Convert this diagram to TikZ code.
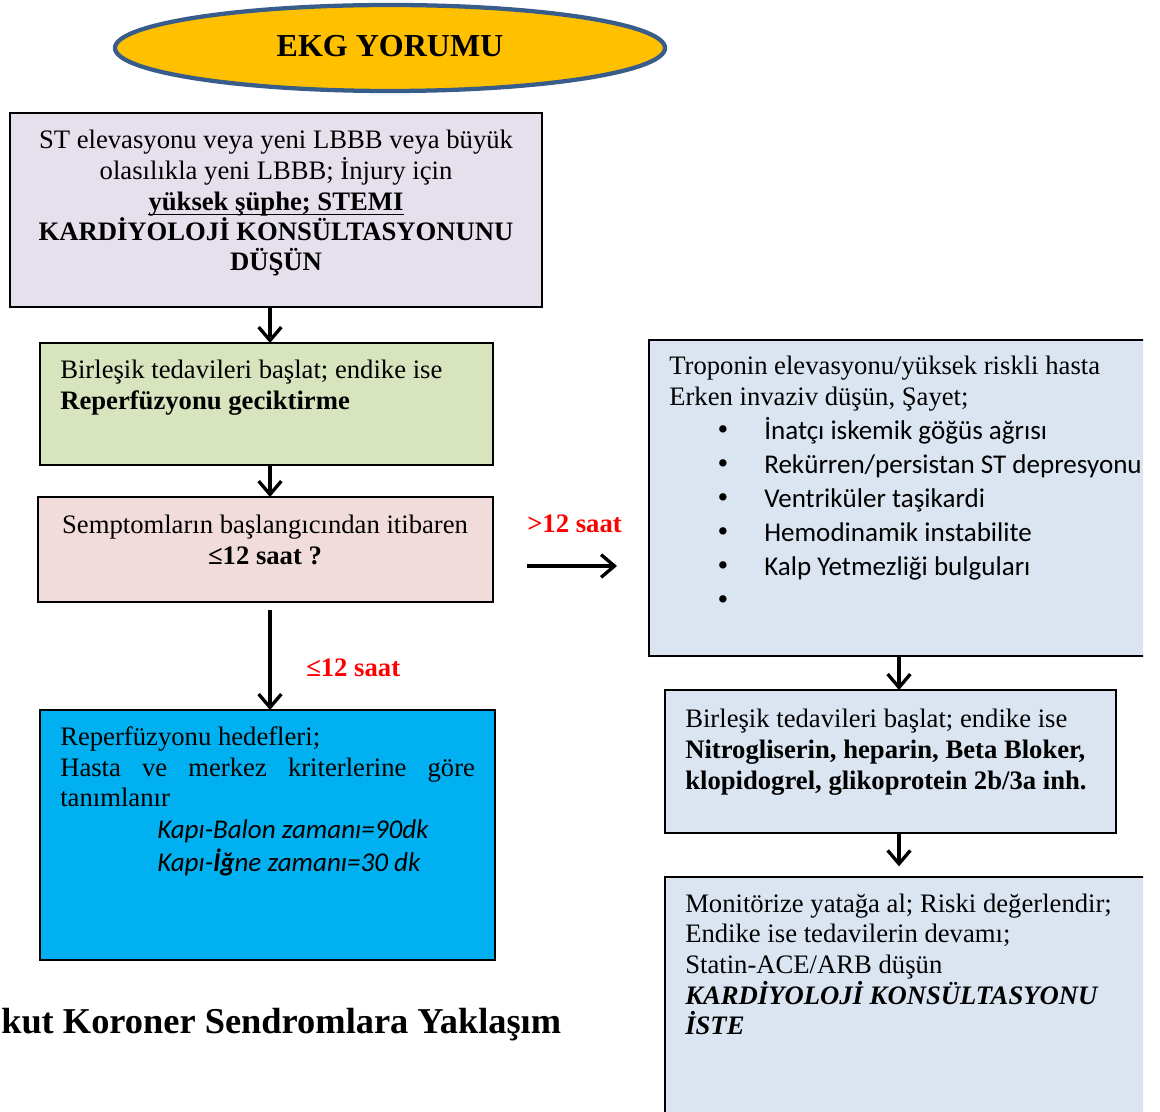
\documentclass[tikz,border=0pt]{standalone}
\usepackage{fontspec}
\setmainfont{Liberation Serif}
\newfontfamily\calfont{Carlito}
\usetikzlibrary{shapes.geometric,arrows.meta}

\definecolor{ekgfill}{RGB}{255,192,0}
\definecolor{ekgline}{RGB}{56,93,138}
\definecolor{lilac}{RGB}{229,224,236}
\definecolor{olivebox}{RGB}{215,228,189}
\definecolor{rosebox}{RGB}{242,220,219}
\definecolor{cyanbox}{RGB}{0,176,240}
\definecolor{palebox}{RGB}{219,229,241}
\definecolor{redlabel}{RGB}{255,0,0}

\tikzset{
  boxsize/.style 2 args={minimum width=#1*0.75pt, minimum height=#2*0.75pt},
  box/.style={draw=black, line width=1.6pt, inner sep=0pt, outer sep=0pt},
  txt/.style={anchor=base west, inner sep=0pt, font=\fontsize{20}{24}\selectfont},
  ctxt/.style={txt, anchor=base},
  sanstxt/.style={txt, font=\calfont\fontsize{20.3}{24}\selectfont},
  dot/.style={ctxt, font=\fontsize{23}{24}\selectfont},
  redlab/.style={txt, text=redlabel, font=\fontsize{20}{24}\selectfont\bfseries},
  arr/.style={line width=2.5pt, -{Straight Barb[length=10pt,width=17pt]}},
}

\begin{document}
\begin{tikzpicture}[x=0.75pt,y=0.75pt,yscale=-1,xscale=1]
\useasboundingbox (0,0) rectangle (1160,1112);

% title ellipse
\node [ellipse, draw=ekgline, line width=3.2pt, fill=ekgfill, boxsize={550}{86}, inner sep=0pt] (ekg) at (390,48) {};
\node [ctxt, font=\fontsize{24}{28}\selectfont\bfseries] (ekgt) at (390,57) {EKG YORUMU};

% left column
\node [box, fill=lilac, boxsize={532}{194}] (b1) at (276,210) {};
\node [ctxt] (b1a) at (276,149) {ST elevasyonu veya yeni LBBB veya büyük};
\node [ctxt] (b1b) at (276,180) {olasılıkla yeni LBBB; İnjury için};
\node [ctxt] (b1c) at (276,211) {\bfseries yüksek şüphe; STEMI};
\draw [line width=1.4pt] ([yshift=2.6pt]b1c.base west) -- ([yshift=2.6pt]b1c.base east);
\node [ctxt] (b1d) at (276,241) {\bfseries KARDİYOLOJİ KONSÜLTASYONUNU};
\node [ctxt] (b1e) at (276,271) {\bfseries DÜŞÜN};

\node [box, fill=olivebox, boxsize={453}{122}] (b2) at (266.5,404) {};
\node [txt] (b2a) at (60,379) {Birleşik tedavileri başlat; endike ise};
\node [txt] (b2b) at (60,410) {\bfseries Reperfüzyonu geciktirme};

\node [box, fill=rosebox, boxsize={455}{105}] (b3) at (265.5,549.5) {};
\node [ctxt] (b3a) at (265,533) {Semptomların başlangıcından itibaren};
\node [ctxt] (b3b) at (265,564) {\bfseries ≤12 saat ?};

\node [box, fill=cyanbox, boxsize={455}{250}] (b4) at (267.5,835) {};
\node [txt] (b4a) at (60,745) {Reperfüzyonu hedefleri;};
\node [txt] (b4b) at (60,776) {\hbox to 311pt{Hasta\hfill ve\hfill merkez\hfill kriterlerine\hfill göre}};
\node [txt] (b4c) at (60,806) {tanımlanır};
\node [sanstxt] (b4d) at (157,838) {\itshape Kapı-Balon zamanı=90dk};
\node [sanstxt] (b4e) at (157,871) {\itshape Kapı-\textbf{İğ}ne zamanı=30 dk};

\node [txt, font=\fontsize{27.3}{32}\selectfont\bfseries] (cap) at (1,1033) {kut Koroner Sendromlara Yaklaşım};

% right column
\begin{scope}
\clip (0,0) rectangle (1143,1112);
\node [box, fill=palebox, boxsize={501}{316}] (b5) at (899.5,498) {};
\node [box, fill=palebox, boxsize={485}{253}] (b7) at (907.5,1003.5) {};
\end{scope}
\node [txt] (b5a) at (669,375) {Troponin elevasyonu/yüksek riskli hasta};
\node [txt] (b5b) at (669,406) {Erken invaziv düşün, Şayet;};
\node [dot] (d1) at (723,440) {•};
\node [sanstxt] (b5c) at (764,440) {İnatçı iskemik göğüs ağrısı};
\node [dot] (d2) at (723,473) {•};
\node [sanstxt] (b5d) at (764,473) {Rekürren/persistan ST depresyonu};
\node [dot] (d3) at (723,507) {•};
\node [sanstxt] (b5e) at (764,507) {Ventriküler taşikardi};
\node [dot] (d4) at (723,541) {•};
\node [sanstxt] (b5f) at (764,541) {Hemodinamik instabilite};
\node [dot] (d5) at (723,575) {•};
\node [sanstxt] (b5g) at (764,575) {Kalp Yetmezliği bulguları};
\node [dot] (d6) at (723,609) {•};

\node [box, fill=palebox, boxsize={451}{143}] (b6) at (890.5,761.5) {};
\node [txt] (b6a) at (685,727) {Birleşik tedavileri başlat; endike ise};
\node [txt] (b6b) at (685,758) {\bfseries Nitrogliserin, heparin, Beta Bloker,};
\node [txt] (b6c) at (685,789) {\bfseries klopidogrel, glikoprotein 2b/3a inh.};

\node [txt] (b7a) at (685,912) {Monitörize yatağa al; Riski değerlendir;};
\node [txt] (b7b) at (685,942) {Endike ise tedavilerin devamı;};
\node [txt] (b7c) at (685,973) {Statin-ACE/ARB düşün};
\node [txt] (b7d) at (685,1004) {\bfseries\itshape KARDİYOLOJİ KONSÜLTASYONU};
\node [txt] (b7e) at (685,1034) {\bfseries\itshape İSTE};

% connectors
\coordinate (ax) at (270,0);
\coordinate (bx) at (899,0);
\coordinate (r1) at (527,566);
\coordinate (r2) at (617,566);
\draw [arr] (b1.south -| ax) -- (b2.north -| ax);
\draw [arr] (b2.south -| ax) -- (b3.north -| ax);
\draw [arr, shorten <=6pt] (b3.south -| ax) -- (b4.north -| ax);
\draw [arr] (r1) -- (r2);
\draw [arr] (b5.south -| bx) -- (b6.north -| bx);
\draw [arr, shorten >=8pt] (b6.south -| bx) -- (b7.north -| bx);

\node [redlab] (gt) at (527,532) {>12 saat};
\node [redlab] (le) at (306,676) {≤12 saat};

\end{tikzpicture}
\end{document}
